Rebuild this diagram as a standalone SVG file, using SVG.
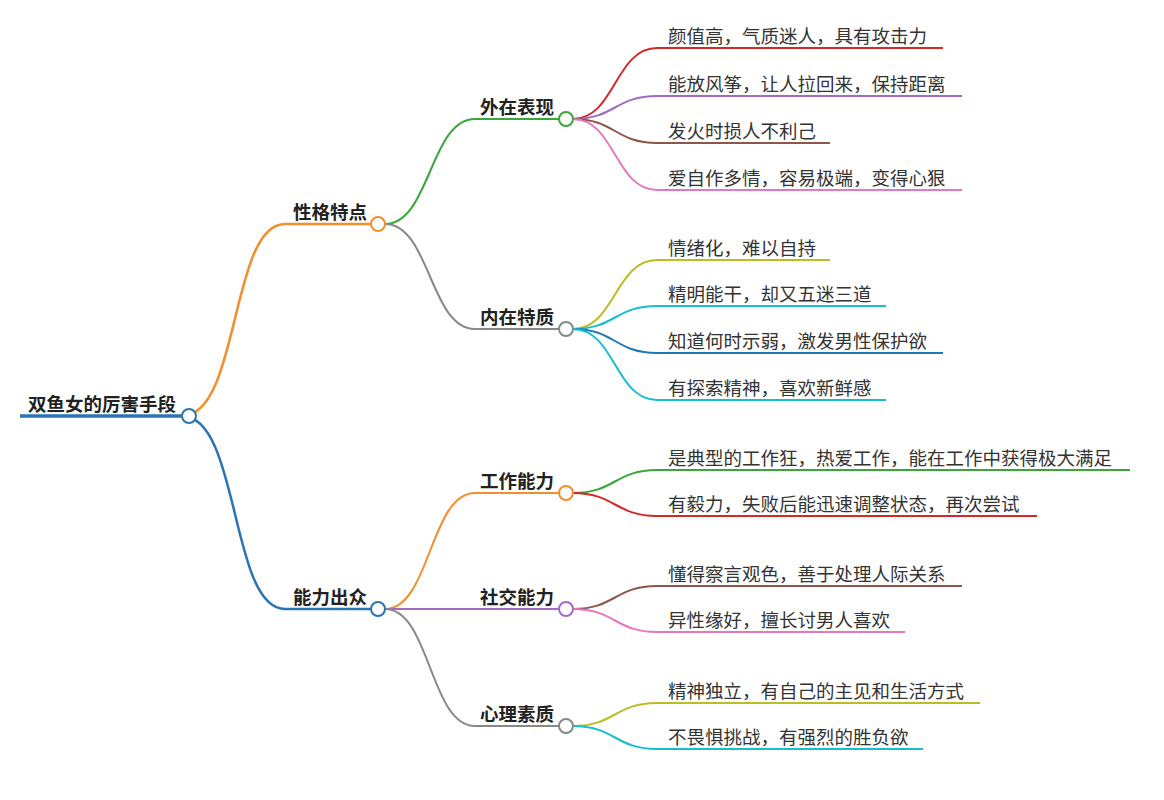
<svg xmlns="http://www.w3.org/2000/svg" width="1164" height="800" viewBox="0 0 1164 800">
<style>
text{font-family:"Noto Sans CJK SC","Noto Sans",sans-serif;font-size:18.5px;fill:#333}
.b{font-weight:bold;fill:#222}
.c{fill:none;stroke-width:2}
circle{fill:#fff;stroke-width:2}
</style>
<rect width="1164" height="800" fill="#fff"/>
<g id="connectors" class="c" fill="none">
<path d="M182,416 C240,416 230,224 285,224 L378,224" stroke="#f28e2b" stroke-width="2.5"/>
<path d="M182,416 C240,416 230,609 285,609 L378,609" stroke="#2a74b4" stroke-width="2.5"/>
<path d="M385,224 C430,224 430,119 475,119 L566,119" stroke="#3aa63a"/>
<path d="M385,224 C430,224 430,329 475,329 L566,329" stroke="#888"/>
<path d="M385,609 C430,609 430,493 475,493 L566,493" stroke="#f28e2b"/>
<path d="M385,609 L566,609" stroke="#a36bc0"/>
<path d="M385,609 C430,609 430,726 475,726 L566,726" stroke="#888"/>
<path d="M573,119 C615,119 615,48 657,48 L943,48" stroke="#d62728"/>
<path d="M573,119 C615,119 615,96 657,96 L962,96" stroke="#a36bc0"/>
<path d="M573,119 C615,119 615,143 657,143 L830,143" stroke="#8c564b"/>
<path d="M573,119 C615,119 615,190 657,190 L962,190" stroke="#e377c2"/>
<path d="M573,329 C615,329 615,260 657,260 L830,260" stroke="#bcbd22"/>
<path d="M573,329 C615,329 615,306 657,306 L886,306" stroke="#17becf"/>
<path d="M573,329 C615,329 615,353 657,353 L943,353" stroke="#1f77b4"/>
<path d="M573,329 C615,329 615,400 657,400 L886,400" stroke="#17becf"/>
<path d="M573,493 C615,493 615,470 657,470 L1130,470" stroke="#3aa63a"/>
<path d="M573,493 C615,493 615,516 657,516 L1037,516" stroke="#d62728"/>
<path d="M573,609 C615,609 615,586 657,586 L962,586" stroke="#8c564b"/>
<path d="M573,609 C615,609 615,632 657,632 L905,632" stroke="#e377c2"/>
<path d="M573,726 C615,726 615,703 657,703 L980,703" stroke="#bcbd22"/>
<path d="M573,726 C615,726 615,749 657,749 L923,749" stroke="#17becf"/>
<path d="M20,416 L182,416" stroke="#2a74b4" stroke-width="3.5"/>
</g>
<g id="root"><text class="b" x="28" y="411">双鱼女的厉害手段</text><circle cx="189" cy="416" r="7" stroke="#2a74b4"/></g>
<g id="n1"><text class="b" x="293" y="219">性格特点</text><circle cx="378" cy="224" r="7" stroke="#f28e2b"/></g>
<g id="n2"><text class="b" x="293" y="604">能力出众</text><circle cx="378" cy="609" r="7" stroke="#2a74b4"/></g>
<g id="n11"><text class="b" x="480" y="114">外在表现</text><circle cx="566" cy="119" r="7" stroke="#3aa63a"/></g>
<g id="n12"><text class="b" x="480" y="324">内在特质</text><circle cx="566" cy="329" r="7" stroke="#888"/></g>
<g id="n21"><text class="b" x="480" y="488">工作能力</text><circle cx="566" cy="493" r="7" stroke="#f28e2b"/></g>
<g id="n22"><text class="b" x="480" y="604">社交能力</text><circle cx="566" cy="609" r="7" stroke="#a36bc0"/></g>
<g id="n23"><text class="b" x="480" y="721">心理素质</text><circle cx="566" cy="726" r="7" stroke="#888"/></g>
<g id="leaves">
<text x="668" y="43">颜值高，气质迷人，具有攻击力</text>
<text x="668" y="91">能放风筝，让人拉回来，保持距离</text>
<text x="668" y="138">发火时损人不利己</text>
<text x="668" y="185">爱自作多情，容易极端，变得心狠</text>
<text x="668" y="255">情绪化，难以自持</text>
<text x="668" y="301">精明能干，却又五迷三道</text>
<text x="668" y="348">知道何时示弱，激发男性保护欲</text>
<text x="668" y="395">有探索精神，喜欢新鲜感</text>
<text x="668" y="465">是典型的工作狂，热爱工作，能在工作中获得极大满足</text>
<text x="668" y="511">有毅力，失败后能迅速调整状态，再次尝试</text>
<text x="668" y="581">懂得察言观色，善于处理人际关系</text>
<text x="668" y="627">异性缘好，擅长讨男人喜欢</text>
<text x="668" y="698">精神独立，有自己的主见和生活方式</text>
<text x="668" y="744">不畏惧挑战，有强烈的胜负欲</text>
</g>
</svg>
